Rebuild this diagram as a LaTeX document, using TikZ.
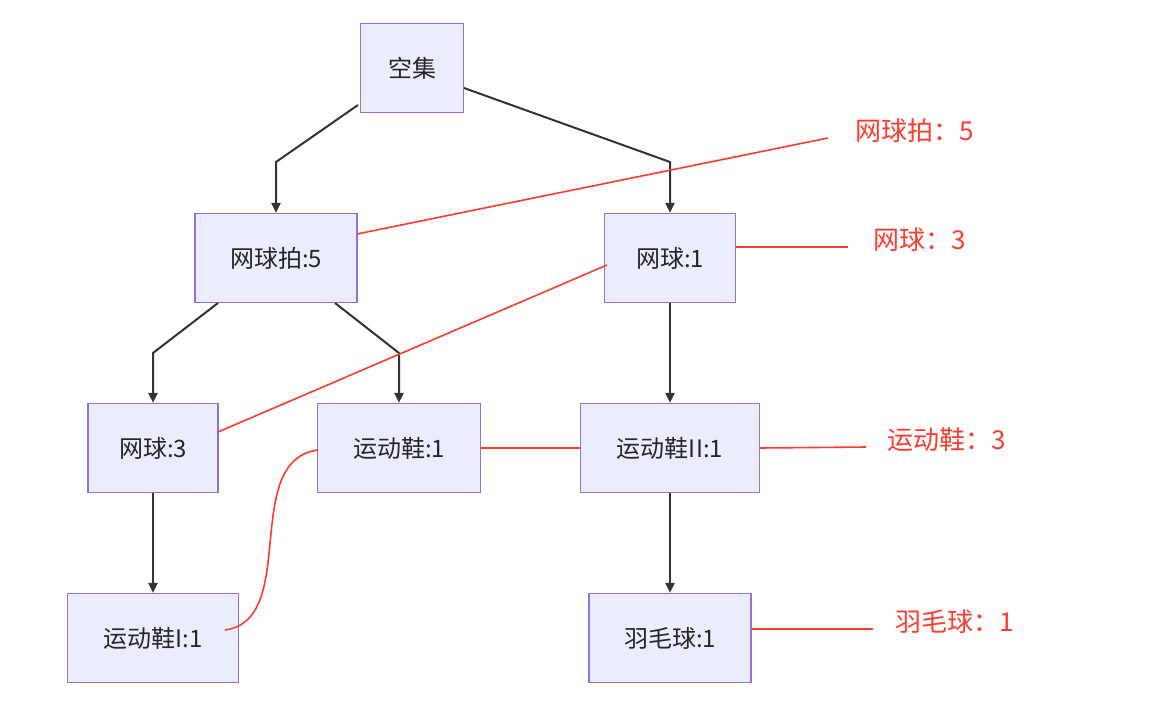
\documentclass[tikz,border=0pt]{standalone}
\usepackage{fontspec}
\setmainfont{Noto Sans CJK SC}
\usetikzlibrary{arrows.meta}
\definecolor{nf}{HTML}{ECECFF}
\definecolor{nb}{HTML}{9370DB}
\definecolor{rd}{HTML}{FF3B30}
\begin{document}
\begin{tikzpicture}[x=1pt,y=-1pt,
  box/.style={draw=nb,fill=nf,line width=1.2pt,minimum height=89pt,inner sep=0pt,font=\fontsize{24}{28}\selectfont,text=black!85},
  ed/.style={draw=black!80,line width=2pt,-{Triangle[length=10pt,width=9pt]}},
  rl/.style={draw=rd,line width=1.6pt},
  lb/.style={text=rd,font=\fontsize{26}{30}\selectfont,anchor=west}]
\useasboundingbox (0,0) rectangle (1156,726);
\node[box,minimum width=103pt] (e) at (412,68) {空集};
\node[box,minimum width=162pt] (a) at (276,258) {网球拍:5};
\node[box,minimum width=131pt] (b) at (670,258) {网球:1};
\node[box,minimum width=130pt] (c) at (153,448) {网球:3};
\node[box,minimum width=163pt] (d) at (399,448) {运动鞋:1};
\node[box,minimum width=179pt] (f) at (670,448) {运动鞋II:1};
\node[box,minimum width=171pt] (g) at (153,638) {运动鞋I:1};
\node[box,minimum width=162pt] (h) at (670,638) {羽毛球:1};
\draw[ed] (358,105) -- (276,162) -- (a.north);
\draw[ed] (464,88) -- (670,162) -- (b.north);
\draw[ed] (218,303) -- (153,353) -- (c.north);
\draw[ed] (335,303) -- (399,353) -- (d.north);
\draw[ed] (b.south) -- (f.north);
\draw[ed] (c.south) -- (g.north);
\draw[ed] (f.south) -- (h.north);
\coordinate (p1) at (828,138);
\coordinate (p2) at (848,247);
\coordinate (p3) at (866,447);
\coordinate (p4) at (873,629);
\draw[rl] (357,234) -- (p1);
\draw[rl] (b.east |- 0,247) -- (p2);
\draw[rl] (607,265) -- (218,432);
\draw[rl] (d.east) -- (f.west);
\draw[rl] (f.east) -- (p3);
\draw[rl] (h.east |- 0,629) -- (p4);
\draw[rl] (318,450) .. controls (240,460) and (300,620) .. (225,630);
\node[lb] (l1) at (852,131) {网球拍：5};
\node[lb] (l2) at (870,240) {网球：3};
\node[lb] (l3) at (884,440) {运动鞋：3};
\node[lb] (l4) at (892,622) {羽毛球：1};
\end{tikzpicture}
\end{document}
